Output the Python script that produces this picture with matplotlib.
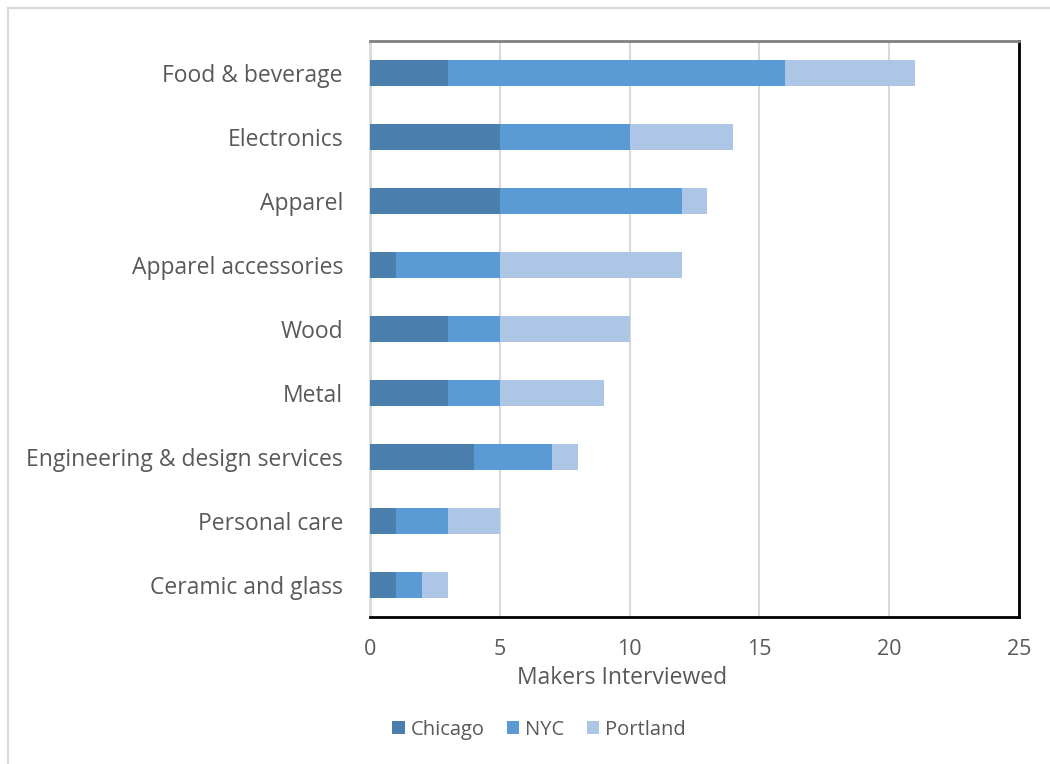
import matplotlib
matplotlib.use("Agg")
import matplotlib.pyplot as plt
from matplotlib.lines import Line2D

categories = ["Food & beverage", "Electronics", "Apparel", "Apparel accessories",
              "Wood", "Metal", "Engineering & design services", "Personal care",
              "Ceramic and glass"]
chicago = [3, 5, 5, 1, 3, 3, 4, 1, 1]
nyc = [13, 5, 7, 4, 2, 2, 3, 2, 1]
portland = [5, 4, 1, 7, 5, 4, 1, 2, 1]
series_names = ["Chicago", "NYC", "Portland"]
colors = ["#4a7ead", "#5b9bd5", "#adc6e5"]
xticks = [0, 5, 10, 15, 20, 25]

plt.rcParams['font.family'] = ['Open Sans', 'DejaVu Sans']
txt = "#595959"

fig = plt.figure(figsize=(10.5, 7.64), dpi=100)
W, H = 1050, 764
fx, fy = 8 / W, 1 - 8 / H
fig.lines.append(Line2D([fx, fx], [0, fy], transform=fig.transFigure,
                        color="#d9d9d9", linewidth=1.5))
fig.lines.append(Line2D([fx, 1], [fy, fy], transform=fig.transFigure,
                        color="#d9d9d9", linewidth=1.5))

ax = fig.add_axes([370 / W, 1 - 617 / H, (1019 - 370) / W, (617 - 41) / H])
y = list(range(len(categories)))
left = [0] * len(categories)
for vals, name, c in zip([chicago, nyc, portland], series_names, colors):
    ax.barh(y, vals, left=left, height=0.4, color=c, label=name, zorder=3)
    left = [a + b for a, b in zip(left, vals)]

ax.set_ylim(len(categories) - 0.5, -0.5)
ax.set_xlim(0, 25)
ax.set_yticks(y)
ax.set_yticklabels(categories, fontsize=16.5, color=txt)
ax.set_xticks(xticks)
ax.set_xticklabels([str(t) for t in xticks], fontsize=15.5, color=txt)
ax.tick_params(axis="both", length=0)
ax.tick_params(axis="y", pad=19.5)
ax.tick_params(axis="x", pad=16)
ax.grid(axis="x", color="#d9d9d9", linewidth=1.5, zorder=0)
ax.spines["top"].set_color("#808080")
ax.spines["top"].set_linewidth(2)
ax.spines["right"].set_color("black")
ax.spines["right"].set_linewidth(2)
ax.spines["bottom"].set_color("black")
ax.spines["bottom"].set_linewidth(2)
ax.spines["left"].set_color("#d9d9d9")
ax.spines["left"].set_linewidth(2)
fig.text(622 / W, 1 - 678 / H, "Makers Interviewed", fontsize=16.5, color=txt,
         ha="center", va="center")

leg = fig.legend(loc="center", bbox_to_anchor=(539 / W, 1 - 730 / H), ncol=3,
                 frameon=False, fontsize=14.5, handlelength=0.62, handleheight=0.62,
                 handletextpad=0.3, columnspacing=1.1)
for t in leg.get_texts():
    t.set_color(txt)

fig.savefig("out.png", dpi=100, facecolor="white")
